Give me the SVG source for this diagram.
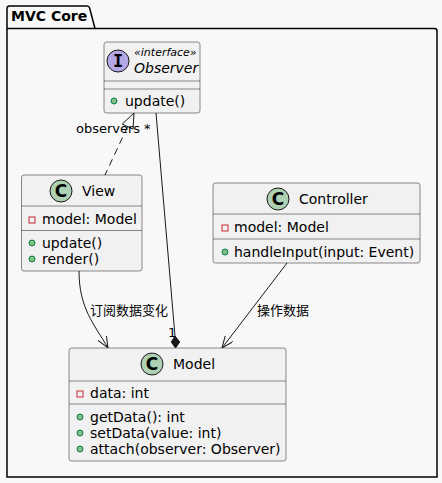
<svg xmlns="http://www.w3.org/2000/svg" width="442" height="483" viewBox="0 0 442 483">
<style>
text{font-family:"DejaVu Sans","Noto Sans CJK SC",sans-serif;fill:#000}
.box{fill:#F1F1F1;stroke:#181818;stroke-width:0.5}
.sep{stroke:#181818;stroke-width:0.5}
.m{font-size:14px}
.t{font-size:14px}
.lbl{font-size:13px}
.cc{fill:#ADD1B2;stroke:#181818;stroke-width:1}
.ci{fill:#B4A7E5;stroke:#181818;stroke-width:1}
.sp{font-size:17px;font-weight:bold;text-anchor:middle}
.pub{fill:#84BE84;stroke:#038048;stroke-width:1}
.priv{fill:none;stroke:#C82930;stroke-width:1}
.ln{fill:none;stroke:#181818;stroke-width:1}
</style>
<defs>
<marker id="open" viewBox="0 0 12 10" refX="12" refY="5" markerWidth="12" markerHeight="10" markerUnits="userSpaceOnUse" orient="auto">
<path d="M0,0 L12,5 L0,10" fill="none" stroke="#181818" stroke-width="1"/>
</marker>
</defs>
<rect width="442" height="483" fill="#F8F8F8"/>
<g id="pkg">
<path d="M7,28.5 L7,8.5 Q7,6 9.5,6 L87,6 Q89,6 89.6,8 L95,28.5 L434.5,28.5 Q437,28.5 437,31 L437,477 L7,477 Z" fill="none" stroke="#000" stroke-width="1.5"/>
<line x1="7" y1="28.5" x2="95" y2="28.5" stroke="#000" stroke-width="1.5"/>
<text x="11" y="21" style="font-size:14px;font-weight:bold">MVC Core</text>
</g>
<g id="Observer">
<rect class="box" x="104" y="42" width="96" height="71" rx="2.5"/>
<circle class="ci" cx="118" cy="61" r="11"/>
<text x="118" y="67" class="sp" style="font-family:'DejaVu Sans Mono',monospace">I</text>
<text x="134" y="56" style="font-size:11px;font-style:italic">«interface»</text>
<text x="134" y="73" class="t" style="font-style:italic">Observer</text>
<line class="sep" x1="104" y1="81" x2="200" y2="81"/>
<line class="sep" x1="104" y1="89" x2="200" y2="89"/>
<circle class="pub" cx="114" cy="101" r="3"/>
<text x="125" y="106" class="m">update()</text>
</g>
<g id="View">
<rect class="box" x="21.5" y="175" width="120.5" height="96" rx="2.5"/>
<circle class="cc" cx="61" cy="191" r="11"/>
<text x="61" y="197" class="sp">C</text>
<text x="82" y="196" class="t">View</text>
<line class="sep" x1="21.5" y1="206" x2="142" y2="206"/>
<rect class="priv" x="29" y="217" width="6" height="6"/>
<text x="42" y="224" class="m">model: Model</text>
<line class="sep" x1="21.5" y1="230.5" x2="142" y2="230.5"/>
<circle class="pub" cx="32" cy="243" r="3"/>
<text x="42" y="248" class="m">update()</text>
<circle class="pub" cx="32" cy="259" r="3"/>
<text x="42" y="264" class="m">render()</text>
</g>
<g id="Controller">
<rect class="box" x="213" y="183" width="207" height="80" rx="2.5"/>
<circle class="cc" cx="278" cy="199" r="11"/>
<text x="278" y="205" class="sp">C</text>
<text x="299" y="204" class="t">Controller</text>
<line class="sep" x1="213" y1="214" x2="420" y2="214"/>
<rect class="priv" x="222" y="225" width="6" height="6"/>
<text x="234" y="232" class="m">model: Model</text>
<line class="sep" x1="213" y1="239" x2="420" y2="239"/>
<circle class="pub" cx="225" cy="252" r="3"/>
<text x="234" y="257" class="m">handleInput(input: Event)</text>
</g>
<g id="Model">
<rect class="box" x="69" y="348" width="217" height="113" rx="2.5"/>
<circle class="cc" cx="152" cy="364" r="11"/>
<text x="152" y="370" class="sp">C</text>
<text x="173" y="369" class="t">Model</text>
<line class="sep" x1="69" y1="381" x2="286" y2="381"/>
<rect class="priv" x="77" y="391" width="6" height="6"/>
<text x="90" y="398" class="m">data: int</text>
<line class="sep" x1="69" y1="404" x2="286" y2="404"/>
<circle class="pub" cx="80" cy="417" r="3"/>
<text x="90" y="422" class="m">getData(): int</text>
<circle class="pub" cx="80" cy="433" r="3"/>
<text x="90" y="438" class="m">setData(value: int)</text>
<circle class="pub" cx="80" cy="449" r="3"/>
<text x="90" y="454" class="m">attach(observer: Observer)</text>
</g>
<g id="connectors">
<line class="ln" x1="127.6" y1="126.6" x2="105" y2="175" stroke-dasharray="7,5"/>
<polygon points="134,113 133,129.1 122.2,124.1" fill="none" stroke="#181818" stroke-width="1"/>
<text x="76" y="133" class="lbl">observers</text>
<text x="144" y="133" class="lbl">*</text>
<line class="ln" x1="156" y1="113" x2="175" y2="336"/>
<polygon points="175.5,348 171.3,342 175,336 179.7,342" fill="#181818" stroke="#181818" stroke-width="1"/>
<text x="168" y="337" class="lbl">1</text>
<path class="ln" d="M79,271 C79,308 94,324 108,348" marker-end="url(#open)"/>
<text x="90" y="315" class="lbl">订阅数据变化</text>
<line class="ln" x1="287" y1="263" x2="222" y2="348" marker-end="url(#open)"/>
<text x="257" y="315" class="lbl">操作数据</text>
</g>
</svg>
